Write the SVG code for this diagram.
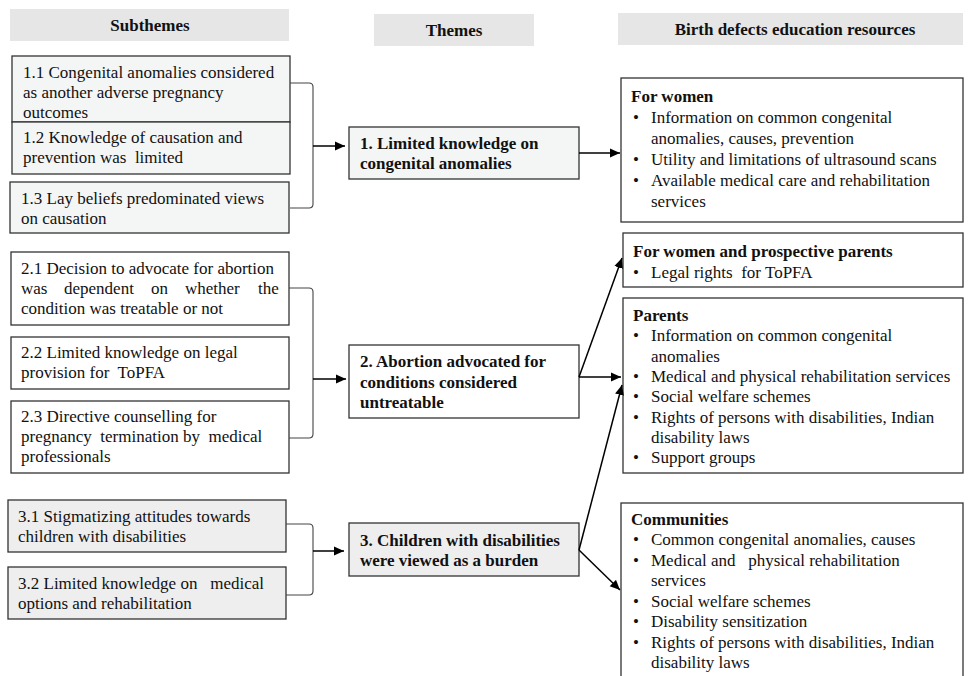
<svg xmlns="http://www.w3.org/2000/svg" width="971" height="676" viewBox="0 0 971 676">
<style>
text{font-family:"Liberation Serif","Times New Roman",serif;font-size:17px;fill:#111;white-space:pre}
.b{font-weight:bold}
.h{font-weight:bold;font-size:17px;text-anchor:middle}
.hdr{fill:#e6e6e6}
.box{stroke:#333;stroke-width:1.3}
.w{fill:#fff}
.l{fill:#f4f6f6}
.g{fill:#eeeeee}
.br{fill:none;stroke:#444;stroke-width:1.1}
.ar{fill:none;stroke:#000;stroke-width:1.5}
</style>
<defs>
<marker id="ah" markerUnits="userSpaceOnUse" markerWidth="12" markerHeight="10" refX="10" refY="5" orient="auto">
<path d="M0,0.5 L10,5 L0,9.5 Z" fill="#000"/>
</marker>
</defs>
<rect width="971" height="676" fill="#fff"/>

<g id="headers">
<rect class="hdr" x="10" y="9" width="279" height="32"/>
<text class="h" x="150" y="31">Subthemes</text>
<rect class="hdr" x="374" y="14" width="160" height="32"/>
<text class="h" x="454" y="36">Themes</text>
<rect class="hdr" x="618" y="13" width="345" height="32"/>
<text class="h" x="795" y="35">Birth defects education resources</text>
</g>

<g id="s11">
<rect class="box l" x="12" y="56" width="278" height="66"/>
<text x="23" y="78">1.1 Congenital anomalies considered</text>
<text x="23" y="98">as another adverse pregnancy</text>
<text x="23" y="118">outcomes</text>
</g>
<g id="s12">
<rect class="box l" x="12" y="122" width="278" height="52"/>
<text x="23" y="143">1.2 Knowledge of causation and</text>
<text x="23" y="163">prevention was  limited</text>
</g>
<g id="s13">
<rect class="box l" x="10" y="182" width="279" height="51"/>
<text x="21" y="204">1.3 Lay beliefs predominated views</text>
<text x="21" y="224">on causation</text>
</g>

<g id="s21">
<rect class="box w" x="11" y="252" width="278" height="73"/>
<text x="21" y="274">2.1 Decision to advocate for abortion</text>
<text y="294"><tspan x="21">was</tspan><tspan x="64">dependent</tspan><tspan x="151">on</tspan><tspan x="185">whether</tspan><tspan x="258">the</tspan></text>
<text x="21" y="314">condition was treatable or not</text>
</g>
<g id="s22">
<rect class="box w" x="11" y="337" width="278" height="52"/>
<text x="21" y="358">2.2 Limited knowledge on legal</text>
<text x="21" y="378">provision for  ToPFA</text>
</g>
<g id="s23">
<rect class="box w" x="11" y="401" width="278" height="72"/>
<text x="21" y="422">2.3 Directive counselling for</text>
<text x="21" y="442">pregnancy  termination by  medical</text>
<text x="21" y="462">professionals</text>
</g>

<g id="s31">
<rect class="box g" x="8" y="500" width="278" height="52"/>
<text x="18" y="522">3.1 Stigmatizing attitudes towards</text>
<text x="18" y="542">children with disabilities</text>
</g>
<g id="s32">
<rect class="box g" x="8" y="567" width="278" height="52"/>
<text x="18" y="589">3.2 Limited knowledge on   medical</text>
<text x="18" y="609">options and rehabilitation</text>
</g>

<g id="t1">
<rect class="box l" x="349" y="127" width="230" height="52"/>
<text class="b" x="360" y="149">1. Limited knowledge on</text>
<text class="b" x="360" y="169">congenital anomalies</text>
</g>
<g id="t2">
<rect class="box w" x="349" y="345" width="230" height="73"/>
<text class="b" x="360" y="367">2. Abortion advocated for</text>
<text class="b" x="360" y="388">conditions considered</text>
<text class="b" x="360" y="408">untreatable</text>
</g>
<g id="t3">
<rect class="box g" x="349" y="523" width="230" height="53"/>
<text class="b" x="360" y="546">3. Children with disabilities</text>
<text class="b" x="360" y="566">were viewed as a burden</text>
</g>

<g id="r1">
<rect class="box w" x="621" y="78" width="342" height="144"/>
<text class="b" x="631" y="102">For women</text>
<text x="633" y="123">•</text><text x="651" y="123">Information on common congenital</text>
<text x="651" y="144">anomalies, causes, prevention</text>
<text x="633" y="165">•</text><text x="651" y="165">Utility and limitations of ultrasound scans</text>
<text x="633" y="186">•</text><text x="651" y="186">Available medical care and rehabilitation</text>
<text x="651" y="207">services</text>
</g>
<g id="r2">
<rect class="box w" x="623" y="233" width="340" height="54"/>
<text class="b" x="633" y="257">For women and prospective parents</text>
<text x="633" y="278">•</text><text x="651" y="278">Legal rights  for ToPFA</text>
</g>
<g id="r3">
<rect class="box w" x="623" y="298" width="340" height="175"/>
<text class="b" x="633" y="321">Parents</text>
<text x="633" y="341">•</text><text x="651" y="341">Information on common congenital</text>
<text x="651" y="362">anomalies</text>
<text x="633" y="382">•</text><text x="651" y="382">Medical and physical rehabilitation services</text>
<text x="633" y="402">•</text><text x="651" y="402">Social welfare schemes</text>
<text x="633" y="423">•</text><text x="651" y="423">Rights of persons with disabilities, Indian</text>
<text x="651" y="443">disability laws</text>
<text x="633" y="463">•</text><text x="651" y="463">Support groups</text>
</g>
<g id="r4">
<rect class="box w" x="621" y="503" width="342" height="180"/>
<text class="b" x="631" y="525">Communities</text>
<text x="633" y="545">•</text><text x="651" y="545">Common congenital anomalies, causes</text>
<text x="633" y="566">•</text><text x="651" y="566">Medical and   physical rehabilitation</text>
<text x="651" y="586">services</text>
<text x="633" y="607">•</text><text x="651" y="607">Social welfare schemes</text>
<text x="633" y="627">•</text><text x="651" y="627">Disability sensitization</text>
<text x="633" y="648">•</text><text x="651" y="648">Rights of persons with disabilities, Indian</text>
<text x="651" y="668">disability laws</text>
</g>

<g id="connectors">
<path class="br" d="M290,83 H309 Q313,83 313,87 V204 Q313,208 309,208 H290"/>
<path class="br" d="M289,288 H309 Q313,288 313,292 V434 Q313,438 309,438 H289"/>
<path class="br" d="M286,524 H309 Q313,524 313,528 V591 Q313,595 309,595 H286"/>
<line class="ar" x1="313" y1="146" x2="345" y2="146" marker-end="url(#ah)"/>
<line class="ar" x1="313" y1="379" x2="346" y2="379" marker-end="url(#ah)"/>
<line class="ar" x1="313" y1="551" x2="344" y2="551" marker-end="url(#ah)"/>
<line class="ar" x1="579" y1="153" x2="620" y2="153" marker-end="url(#ah)"/>
<line class="ar" x1="579" y1="377" x2="621" y2="377" marker-end="url(#ah)"/>
<line class="ar" x1="579" y1="377" x2="622" y2="258" marker-end="url(#ah)"/>
<line class="ar" x1="579" y1="550" x2="622" y2="385" marker-end="url(#ah)"/>
<line class="ar" x1="579" y1="550" x2="620" y2="590" marker-end="url(#ah)"/>
</g>
</svg>
